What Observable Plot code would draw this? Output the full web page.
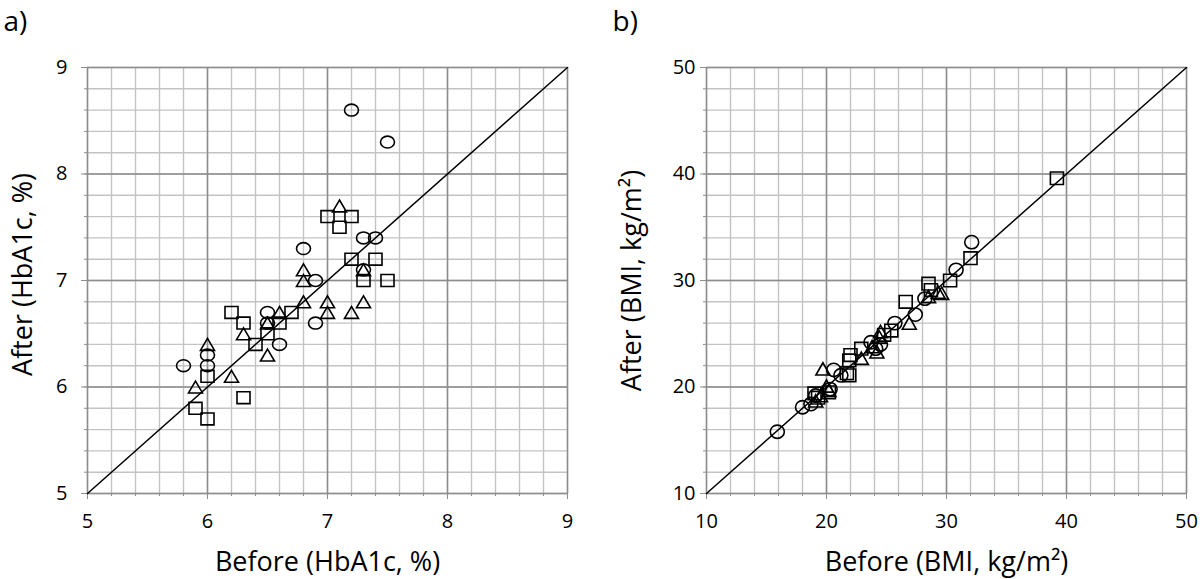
<!DOCTYPE html>
<html>
<head>
<meta charset="utf-8">
<script src="https://cdn.jsdelivr.net/npm/d3@7"></script>
<script src="https://cdn.jsdelivr.net/npm/@observablehq/plot@0.6"></script>
<style>
  html, body { margin: 0; padding: 0; background: #fff; }
  #wrap { position: relative; width: 1200px; height: 579px; display: flex; }
  #wrap svg { display: block; }
</style>
</head>
<body>
<div id="wrap"></div>
<script>
// ---------- Data: panel a) HbA1c (%), [before, after] ----------
const hba1cCircles = [
  [7.2, 8.6], [7.5, 8.3], [7.3, 7.4], [7.4, 7.4], [6.8, 7.3], [6.9, 7.0],
  [7.3, 7.1], [6.5, 6.7], [6.5, 6.6], [6.9, 6.6], [6.6, 6.4], [6.0, 6.3],
  [6.0, 6.2], [5.8, 6.2]
];
const hba1cSquares = [
  [7.0, 7.6], [7.2, 7.6], [7.1, 7.5], [7.2, 7.2], [7.4, 7.2], [7.3, 7.0],
  [7.5, 7.0], [6.2, 6.7], [6.3, 6.6], [6.7, 6.7], [6.6, 6.6], [6.5, 6.5],
  [6.4, 6.4], [6.0, 6.1], [6.3, 5.9], [5.9, 5.8], [6.0, 5.7]
];
const hba1cTriangles = [
  [7.1, 7.7], [6.8, 7.1], [6.8, 7.0], [7.3, 7.1], [6.8, 6.8], [7.0, 6.8],
  [7.0, 6.7], [7.2, 6.7], [7.3, 6.8], [6.6, 6.7], [6.5, 6.6], [6.3, 6.5],
  [6.5, 6.3], [6.0, 6.4], [6.2, 6.1], [5.9, 6.0]
];
const hba1cMajorTicks = [5, 6, 7, 8, 9];
const hba1cMinorTicks = [5, 5.2, 5.4, 5.6, 5.8, 6, 6.2, 6.4, 6.6, 6.8, 7, 7.2, 7.4, 7.6, 7.8, 8, 8.2, 8.4, 8.6, 8.8, 9];

// ---------- Data: panel b) BMI (kg/m2), [before, after] ----------
const bmiCircles = [
  [15.9, 15.8], [18.0, 18.1], [18.7, 18.4], [19.1, 19.2], [20.3, 19.8],
  [20.6, 21.6], [21.2, 21.1], [23.7, 24.2], [24.1, 23.6], [24.5, 24.0],
  [25.7, 26.0], [27.4, 26.8], [28.2, 28.3], [30.8, 31.0], [32.1, 33.6]
];
const bmiSquares = [
  [19.0, 19.4], [19.3, 19.0], [20.2, 19.5], [21.7, 21.3], [21.9, 21.1],
  [21.9, 22.5], [22.0, 23.0], [22.9, 23.6], [24.8, 24.9], [25.4, 25.3],
  [26.6, 28.0], [28.5, 29.7], [28.7, 29.1], [30.3, 30.0], [32.0, 32.1],
  [39.2, 39.6]
];
const bmiTriangles = [
  [19.7, 21.7], [19.5, 19.2], [19.1, 18.7], [20.2, 19.7], [20.0, 20.1],
  [22.9, 22.7], [23.8, 23.8], [24.2, 23.3], [24.4, 24.7], [24.5, 25.2],
  [26.9, 26.0], [28.5, 28.5], [29.3, 28.9], [29.6, 28.8]
];
const bmiMajorTicks = [10, 20, 30, 40, 50];
const bmiMinorTicks = [10, 12, 14, 16, 18, 20, 22, 24, 26, 28, 30, 32, 34, 36, 38, 40, 42, 44, 46, 48, 50];

// ---------- Custom marker symbols ----------
function ellipseSymbol(sx, sy) {
  return {
    draw(ctx, size) {
      const r = Math.sqrt(size / Math.PI);
      const rx = r * sx, ry = r * sy, k = 0.5523;
      ctx.moveTo(rx, 0);
      ctx.bezierCurveTo(rx, k * ry, k * rx, ry, 0, ry);
      ctx.bezierCurveTo(-k * rx, ry, -rx, k * ry, -rx, 0);
      ctx.bezierCurveTo(-rx, -k * ry, -k * rx, -ry, 0, -ry);
      ctx.bezierCurveTo(k * rx, -ry, rx, -k * ry, rx, 0);
      ctx.closePath();
    }
  };
}
function squareSymbol(sx, sy) {
  return {
    draw(ctx, size) {
      const r = Math.sqrt(size / Math.PI);
      const hx = r * sx, hy = r * sy;
      ctx.moveTo(-hx, -hy); ctx.lineTo(hx, -hy); ctx.lineTo(hx, hy); ctx.lineTo(-hx, hy); ctx.closePath();
    }
  };
}
function triangleSymbol(sx, sy) {
  return {
    draw(ctx, size) {
      const r = Math.sqrt(size / Math.PI);
      const hx = r * sx, hy = r * sy;
      ctx.moveTo(0, -hy); ctx.lineTo(hx, hy); ctx.lineTo(-hx, hy); ctx.closePath();
    }
  };
}

const FONT = "'Open Sans', 'DejaVu Sans', sans-serif";
const MINOR = "#c3c3c3", MAJOR = "#8d8d8d";

function panel(cfg) {
  const dotOpts = (sym) => ({
    x: d => d[0], y: d => d[1], r: 7, symbol: sym,
    fill: "none", stroke: "black", strokeWidth: 1.6
  });
  return Plot.plot({
    width: 600, height: 579,
    marginLeft: cfg.ml, marginRight: cfg.mr, marginTop: 67, marginBottom: 86,
    x: { domain: cfg.domain, ticks: [] },
    y: { domain: cfg.domain, ticks: [] },
    style: { fontFamily: FONT, color: "black", background: "white", overflow: "visible" },
    marks: [
      Plot.gridX(cfg.minor, { stroke: MINOR, strokeOpacity: 1, strokeWidth: 1.4 }),
      Plot.gridY(cfg.minor, { stroke: MINOR, strokeOpacity: 1, strokeWidth: 1.4 }),
      Plot.gridX(cfg.major, { stroke: MAJOR, strokeOpacity: 1, strokeWidth: 1.5 }),
      Plot.gridY(cfg.major, { stroke: MAJOR, strokeOpacity: 1, strokeWidth: 1.5 }),
      Plot.axisX(cfg.minor, { tickSize: 3, tickFormat: () => "", stroke: MAJOR, label: null }),
      Plot.axisY(cfg.minor, { tickSize: 3, tickFormat: () => "", stroke: MAJOR, label: null }),
      Plot.axisX(cfg.major, { tickSize: 6, tickPadding: 14, fontSize: 20, tickFormat: d => String(d), stroke: MAJOR, fill: "black", label: null }),
      Plot.axisY(cfg.major, { tickSize: 6, tickPadding: cfg.yPad, fontSize: 20, tickFormat: d => String(d), stroke: MAJOR, fill: "black", label: null }),
      Plot.line(cfg.domain.map(v => [v, v]), { x: d => d[0], y: d => d[1], stroke: "black", strokeWidth: 1.5 }),
      Plot.dot(cfg.circles, dotOpts(cfg.circleSym)),
      Plot.dot(cfg.squares, dotOpts(cfg.squareSym)),
      Plot.dot(cfg.triangles, dotOpts(cfg.triSym)),
      Plot.text([cfg.xTitle], { frameAnchor: "bottom", dy: 69, textAnchor: "middle", lineAnchor: "middle", fontSize: 27, fill: "black" }),
      Plot.text([cfg.yTitle], { frameAnchor: "left", rotate: -90, dx: cfg.yTitleDx, dy: cfg.yTitleDy, textAnchor: "middle", lineAnchor: "middle", fontSize: 27, fill: "black" }),
      Plot.text([cfg.tag], { frameAnchor: "top-left", dx: cfg.tagDx, dy: -45, textAnchor: "start", lineAnchor: "middle", fontSize: 28, fill: "black" })
    ]
  });
}

const wrap = document.getElementById("wrap");
wrap.appendChild(panel({
  domain: [5, 9], major: hba1cMajorTicks, minor: hba1cMinorTicks,
  ml: 87, mr: 33, yPad: 14, yTitleDx: -64, yTitleDy: -6, tagDx: -84,
  circles: hba1cCircles, squares: hba1cSquares, triangles: hba1cTriangles,
  circleSym: ellipseSymbol(1.0, 0.85), squareSym: squareSymbol(0.93, 0.85), triSym: triangleSymbol(1.0, 0.85),
  xTitle: "Before (HbA1c, %)", yTitle: "After (HbA1c, %)", tag: "a)"
}));
wrap.appendChild(panel({
  domain: [10, 50], major: bmiMajorTicks, minor: bmiMinorTicks,
  ml: 106, mr: 14, yPad: 5, yTitleDx: -74, yTitleDy: 0, tagDx: -94,
  circles: bmiCircles, squares: bmiSquares, triangles: bmiTriangles,
  circleSym: ellipseSymbol(1.0, 0.95), squareSym: squareSymbol(0.93, 0.9), triSym: triangleSymbol(1.0, 0.88),
  xTitle: "Before (BMI, kg/m²)", yTitle: "After (BMI, kg/m²)", tag: "b)"
}));
</script>
</body>
</html>
